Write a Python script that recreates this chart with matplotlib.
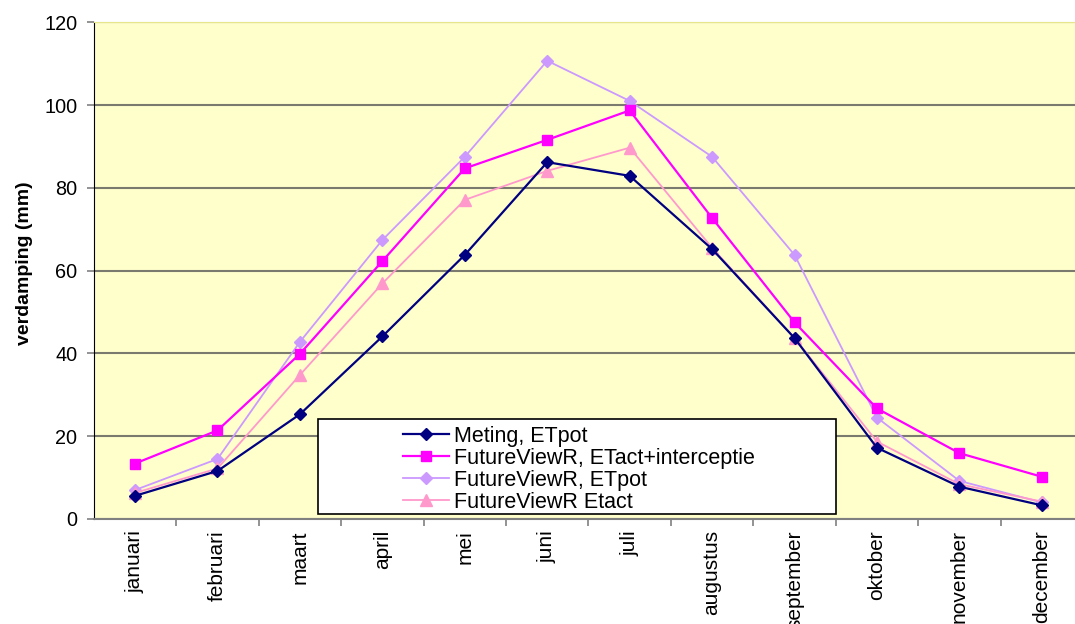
import matplotlib
matplotlib.use('Agg')
import matplotlib.pyplot as plt
from matplotlib.patches import Rectangle
from matplotlib.ticker import FixedLocator

maanden = ['januari', 'februari', 'maart', 'april', 'mei', 'juni', 'juli',
           'augustus', 'september', 'oktober', 'november', 'december']
meting_etpot = [5.6, 11.6, 25.3, 44.1, 63.8, 86.2, 82.9, 65.2, 43.7, 17.2, 7.8, 3.3]
fvr_etact_int = [13.4, 21.4, 39.9, 62.3, 84.7, 91.6, 98.7, 72.7, 47.5, 26.7, 15.9, 10.2]
fvr_etpot = [7.0, 14.5, 42.8, 67.4, 87.5, 110.7, 101.0, 87.5, 63.8, 24.5, 9.2, 4.0]
fvr_etact = [6.3, 12.2, 34.8, 56.9, 77.1, 84.1, 89.7, 65.5, 43.7, 18.7, 8.4, 4.2]

plt.rcParams['font.family'] = ['Liberation Sans', 'DejaVu Sans']

fig = plt.figure(figsize=(10.75, 6.24), dpi=100)
ax = fig.add_axes([0.0873, 0.1683, 0.9202, 0.7960])
ax.set_facecolor('#FFFFCC')

x = list(range(len(maanden)))
ax.plot(x, meting_etpot, color='#000080', lw=1.6, marker='D', ms=6,
        label='Meting, ETpot', zorder=5)
ax.plot(x, fvr_etact_int, color='#FF00FF', lw=1.6, marker='s', ms=7.5,
        label='FutureViewR, ETact+interceptie', zorder=4)
ax.plot(x, fvr_etpot, color='#CC99FF', lw=1.3, marker='D', ms=6,
        label='FutureViewR, ETpot', zorder=3)
ax.plot(x, fvr_etact, color='#FF99CC', lw=1.3, marker='^', ms=8,
        label='FutureViewR Etact', zorder=4)

ax.set_xlim(-0.5, len(maanden) - 0.5)
ax.set_ylim(0, 120)
ax.set_yticks(range(0, 121, 20))
ax.grid(axis='y', color='#7A7A6E', lw=1.5, zorder=1)
ax.set_axisbelow(True)

# labels in het midden, streepjes op de grenzen (Excel-stijl)
ax.set_xticks(x)
ax.set_xticklabels(maanden, rotation=90, fontsize=15)
ax.xaxis.set_minor_locator(FixedLocator([i + 0.5 for i in x[:-1]]))
ax.tick_params(axis='x', which='major', length=0, pad=8)
ax.tick_params(axis='x', which='minor', length=5, width=1.2, color='#808080')
ax.tick_params(axis='y', length=5, width=1.2, color='#808080', pad=7,
               labelsize=14.3)

ax.set_ylabel('verdamping (mm)', fontsize=14, fontweight='bold')
ax.yaxis.set_label_coords(-0.062, 0.515)

ax.spines['left'].set_color('black')
ax.spines['bottom'].set_color('#808080')
ax.spines['bottom'].set_linewidth(1.5)
ax.spines['top'].set_color('#E6E68C')
ax.spines['right'].set_visible(False)

# legenda-kader zoals in Excel
fig.patches.append(Rectangle((0.2955, 0.1763), 0.4822, 0.1517,
                             transform=fig.transFigure, facecolor='white',
                             edgecolor='black', lw=1.2, zorder=6))
leg = fig.legend(loc='upper left', bbox_to_anchor=(0.3749, 0.3173),
                 frameon=False, fontsize=15.5, handlelength=2.14,
                 handletextpad=0.23, labelspacing=0.04, borderpad=0,
                 borderaxespad=0)
leg.set_zorder(7)

plt.savefig('out.png', dpi=100)
